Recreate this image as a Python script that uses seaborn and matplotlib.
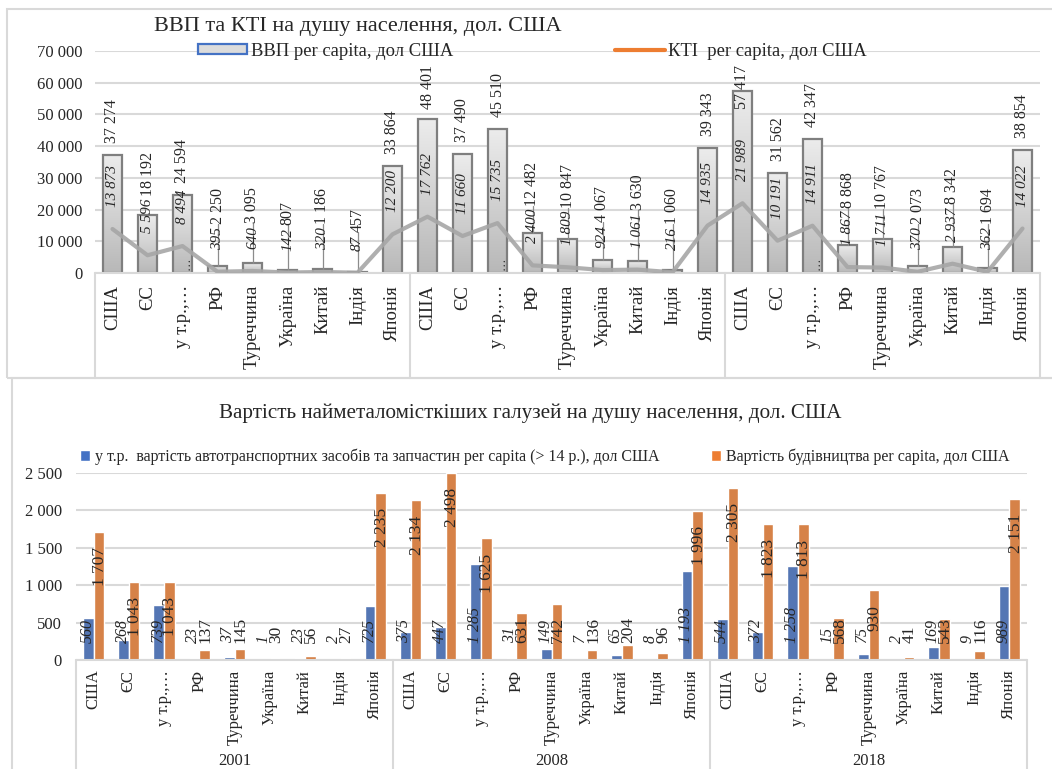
import numpy as np
import pandas as pd
import matplotlib
matplotlib.use("Agg")
import matplotlib.pyplot as plt
import seaborn as sns
from matplotlib.patches import Patch, Rectangle
from matplotlib.lines import Line2D
from matplotlib.ticker import FuncFormatter, MultipleLocator
from matplotlib.colors import LinearSegmentedColormap

# ---- data ----
years = ["2001", "2008", "2018"]
countries = ["США", "ЄС", "у т.р.,…", "РФ", "Туреччина", "Україна", "Китай", "Індія", "Японія"]

gdp_2001 = [37274, 18192, 24594, 2250, 3095, 807, 1186, 457, 33864]
gdp_2008 = [48401, 37490, 45510, 12482, 10847, 4067, 3630, 1060, 39343]
gdp_2018 = [57417, 31562, 42347, 8868, 10767, 2073, 8342, 1694, 38854]

kti_2001 = [13873, 5596, 8494, 395, 640, 142, 320, 87, 12200]
kti_2008 = [17762, 11660, 15735, 2400, 1809, 924, 1061, 216, 14935]
kti_2018 = [21989, 10191, 14911, 1867, 1711, 370, 2937, 362, 14022]

auto_2001 = [560, 268, 739, 23, 37, 1, 23, 2, 725]
auto_2008 = [375, 447, 1285, 31, 149, 7, 65, 8, 1193]
auto_2018 = [544, 372, 1258, 15, 75, 2, 169, 9, 989]

constr_2001 = [1707, 1043, 1043, 137, 145, 30, 56, 27, 2235]
constr_2008 = [2134, 2498, 1625, 631, 742, 136, 204, 96, 1996]
constr_2018 = [2305, 1823, 1813, 568, 930, 41, 543, 116, 2151]

gdp_label = "ВВП per capita, дол США"
kti_label = "КТІ  per capita, дол США"
auto_label = "у т.р.  вартість автотранспортних засобів та запчастин per capita (> 14 р.), дол США"
constr_label = "Вартість будівництва per capita, дол США"

BLUE = "#4472c4"
ORANGE = "#ed7d31"
GRID = "#d9d9d9"

sns.set_theme(style="white")
plt.rcParams["font.family"] = ["Liberation Serif", "DejaVu Serif"]

W, H = 1052, 769
fig = plt.figure(figsize=(W / 100, H / 100), dpi=100)
px = 72 / fig.dpi


def fmt(v):
    return f"{int(v):,}".replace(",", " ")


def fig_box(l, t, r, b):
    return [l / W, 1 - b / H, (r - l) / W, (b - t) / H]


gdp = gdp_2001 + gdp_2008 + gdp_2018
kti = kti_2001 + kti_2008 + kti_2018
auto = auto_2001 + auto_2008 + auto_2018
constr = constr_2001 + constr_2008 + constr_2018
labels = countries * 3
n = len(labels)
pos = np.arange(n)

top = pd.DataFrame({"pos": pos, "gdp": gdp, "kti": kti})
bottom = pd.DataFrame({
    "pos": np.concatenate([pos, pos]),
    "value": auto + constr,
    "series": ["auto"] * n + ["constr"] * n,
})

# ---- top panel ----
ax1 = fig.add_axes(fig_box(95, 51, 1040, 273))
sns.barplot(data=top, x="pos", y="gdp", color="#d0d0d0", width=0.52,
            edgecolor="#7f7f7f", linewidth=1.6, errorbar=None, ax=ax1)
grad = np.linspace(0, 1, 64).reshape(-1, 1)
gcmap = LinearSegmentedColormap.from_list("g", ["#ececec", "#b8b8b8"])
for p in ax1.patches:
    x0, w, h = p.get_x(), p.get_width(), p.get_height()
    ax1.imshow(grad, extent=[x0, x0 + w, 0, h], origin="upper", cmap=gcmap,
               aspect="auto", zorder=1.5, interpolation="bilinear")
    p.set_facecolor("none")
    p.set_zorder(2)
sns.lineplot(x=pos, y=kti, ax=ax1, color="#a6a6a6", linewidth=3, sort=False,
             alpha=0.9, zorder=3)
ax1.set_xlim(-0.5, n - 0.5)
ax1.set_ylim(0, 70000)
ax1.yaxis.set_major_locator(MultipleLocator(10000))

# ---- bottom panel ----
ax2 = fig.add_axes(fig_box(76, 473, 1027, 660))
sns.barplot(data=bottom, x="pos", y="value", hue="series", palette=[BLUE, ORANGE],
            width=0.6, errorbar=None, legend=False, ax=ax2)
ax2.set_xlim(-0.5, n - 0.5)
ax2.set_ylim(0, 2500)
ax2.yaxis.set_major_locator(MultipleLocator(500))

for ax, tsize, ypad, xpad in [(ax1, 13.5, 9, 8.5), (ax2, 12, 10, 7)]:
    ax.set_xlabel("")
    ax.set_ylabel("")
    ax.set_xticks(pos)
    ax.set_xticklabels(labels, rotation=90, fontsize=tsize, va="top")
    ax.tick_params(axis="x", length=0, pad=xpad)
    ax.tick_params(axis="y", length=0, pad=ypad, labelsize=12)
    ax.yaxis.set_major_formatter(FuncFormatter(lambda v, _: fmt(v)))
    ax.grid(axis="y", color=GRID, linewidth=1.5)
    ax.set_axisbelow(True)
    for s in ax.spines.values():
        s.set_visible(False)

# category boxes below the axes
for ax, depth in [(ax1, (378 - 273) / 222), (ax2, (800 - 660) / 187)]:
    tr = ax.get_xaxis_transform()
    ax.plot([-0.5, n - 0.5], [0, 0], transform=tr, clip_on=False, color=GRID, lw=1.5)
    for b in [-0.5, 8.5, 17.5, 26.5]:
        ax.plot([b, b], [0, -depth], transform=tr, clip_on=False, color=GRID, lw=1.5)

for k, yr in enumerate(years):
    ax2.text(9 * k + 4, -(753 - 660) / 187, yr, transform=ax2.get_xaxis_transform(),
             ha="center", va="top", fontsize=12)

# ---- data labels ----
fig.canvas.draw()
renderer = fig.canvas.get_renderer()

ax_top = ax1.transAxes.transform((0, 1))[1]
inv1 = ax1.transData.inverted()
for i in range(n):
    kt = ax1.annotate(fmt(kti[i]), xy=(i, kti[i]), xytext=(0, 22 * px),
                      textcoords="offset points", rotation=90, ha="center",
                      va="bottom", fontstyle="italic", fontsize=11, zorder=5)
    kb = kt.get_window_extent(renderer)
    bar_top = ax1.transData.transform((i, gdp[i]))[1]
    gt = ax1.text(i, 0, fmt(gdp[i]), rotation=90, ha="center", va="bottom",
                  fontsize=11.5, zorder=5)
    hgt = gt.get_window_extent(renderer).height
    base = max(bar_top + 12, kb.y1 + 3)
    if base + hgt > ax_top - 14:
        base = ax_top - 14 - hgt
    y = inv1.transform((0, base))[1]
    gt.set_y(y)
    if base - bar_top > 20:
        ax1.plot([i, i], [gdp[i], y], color="#8c8c8c", lw=0.9, zorder=2.5)
    if countries[i % 9].startswith("у т.р."):
        ax1.text(i + 0.12, 800, "…", rotation=90, ha="center", va="bottom", fontsize=9)

ax2_y0 = ax2.transData.transform((0, 0))[1]
for i in range(n):
    ax2.annotate(fmt(auto[i]), xy=(i - 0.18, 0), xytext=(0, 17 * px),
                 textcoords="offset points", rotation=90, ha="center", va="bottom",
                 fontstyle="italic", fontsize=11.5, zorder=5)
    ot = ax2.annotate(fmt(constr[i]), xy=(i + 0.18, constr[i]), xytext=(0, -15 * px),
                      textcoords="offset points", rotation=90, ha="center", va="top",
                      fontsize=12.5, zorder=5)
    ob = ot.get_window_extent(renderer)
    if ob.y0 < ax2_y0 + 17:
        ot.xy = (i + 0.18, 0)
        ot.xyann = (0, 17 * px)
        ot.set_va("bottom")

# ---- titles & legends ----
fig.text(358 / W, 1 - 27 / H, "ВВП та КТІ на душу населення, дол. США",
         ha="center", va="center", fontsize=16)
fig.text(530 / W, 1 - 413 / H, "Вартість найметаломісткіших галузей на душу населення, дол. США",
         ha="center", va="center", fontsize=15.2)

h1 = [Patch(facecolor="#dcdcdc", edgecolor=BLUE, linewidth=1.6),
      Line2D([0], [0], color=ORANGE, lw=3)]
fig.legend(h1, [gdp_label, kti_label], loc="center left",
           bbox_to_anchor=(198 / W, 1 - 51 / H), ncol=2, frameon=False,
           fontsize=13.4, handlelength=2.65, handleheight=0.5, handletextpad=0.2,
           columnspacing=8.7, borderpad=0, borderaxespad=0)

h2 = [Patch(facecolor=BLUE), Patch(facecolor=ORANGE)]
fig.legend(h2, [auto_label, constr_label], loc="center left",
           bbox_to_anchor=(80 / W, 1 - 457 / H), ncol=2, frameon=False,
           fontsize=11.5, handlelength=0.65, handleheight=0.65, handletextpad=0.3,
           columnspacing=3.2, borderpad=0, borderaxespad=0)

# panel frames
fig.add_artist(Rectangle((7 / W, 1 - 378 / H), 1.2, (378 - 9) / H, transform=fig.transFigure,
                         fill=False, edgecolor=GRID, lw=1.5))
fig.add_artist(Rectangle((12 / W, -0.2), 1.2, 0.2 + 1 - 378 / H, transform=fig.transFigure,
                         fill=False, edgecolor=GRID, lw=1.5))

fig.savefig("out.png", dpi=100)
